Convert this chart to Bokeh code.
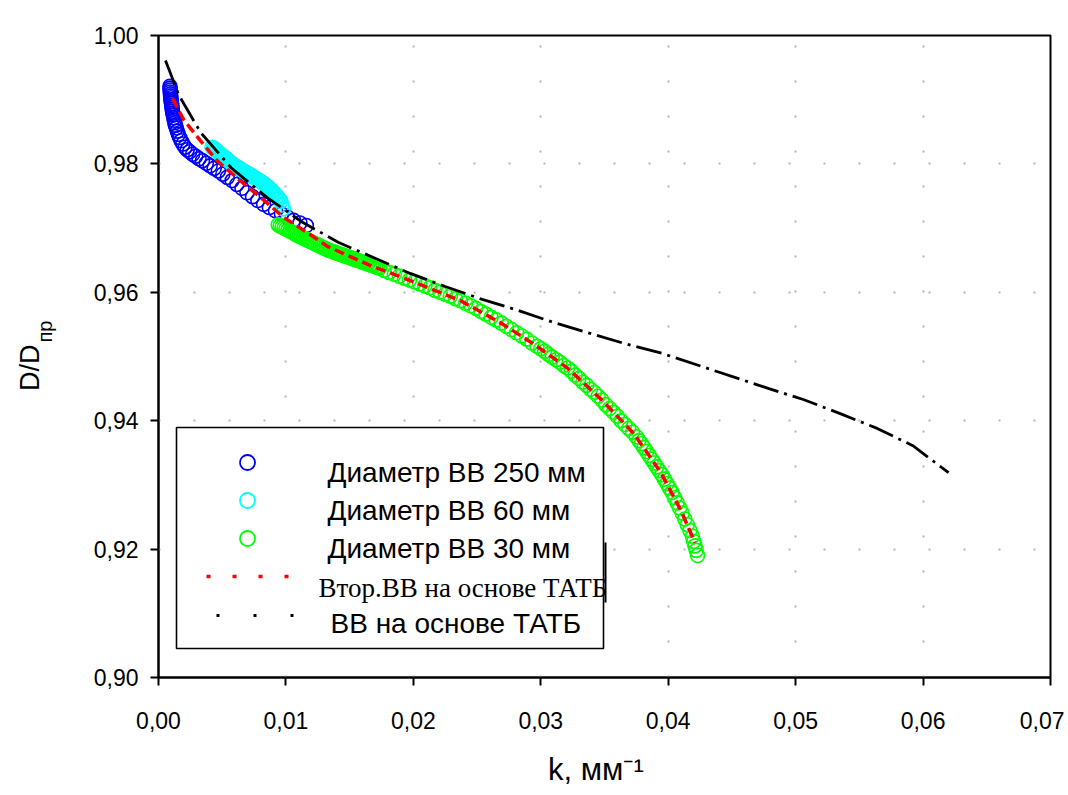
import math
from bokeh.plotting import figure
from bokeh.models import Range1d, FixedTicker, Label, LinearAxis
from bokeh.embed import file_html
from bokeh.resources import INLINE

# ---------------- data ----------------
# Диаметр ВВ 250 мм
k_250 = [0.00090, 0.00090, 0.00092, 0.00092, 0.00094, 0.00095, 0.00097, 0.00098,
         0.00100, 0.00102, 0.00104, 0.00106, 0.00108, 0.00110, 0.00113, 0.00116,
         0.00120, 0.00124, 0.00128, 0.00133, 0.00140, 0.00148, 0.00156, 0.00166,
         0.00178, 0.00192, 0.00208, 0.00225, 0.00245, 0.00268, 0.00292, 0.00318,
         0.00345, 0.00375, 0.00405, 0.00437, 0.00470, 0.00505, 0.00540, 0.00578,
         0.00615, 0.00655, 0.00695, 0.00738, 0.00780, 0.00825, 0.00870, 0.00918,
         0.00965, 0.01012, 0.01060, 0.01110, 0.01160]
d_250 = [0.9921, 0.9918, 0.9915, 0.9912, 0.9909, 0.9906, 0.9903, 0.9900,
         0.9897, 0.9894, 0.9891, 0.9888, 0.9885, 0.9882, 0.9879, 0.9876,
         0.9872, 0.9868, 0.9864, 0.9860, 0.9856, 0.9851, 0.9846, 0.9841,
         0.9836, 0.9831, 0.9826, 0.9822, 0.9819, 0.9815, 0.9812, 0.9808,
         0.9805, 0.9801, 0.9797, 0.9793, 0.9789, 0.9784, 0.9779, 0.9774,
         0.9768, 0.9762, 0.9755, 0.9749, 0.9743, 0.9737, 0.9732, 0.9727,
         0.9722, 0.9717, 0.9712, 0.9708, 0.9704]

# Диаметр ВВ 60 мм
k_60 = [0.0042, 0.0043, 0.0044, 0.0045, 0.0046, 0.0047, 0.0048, 0.0049,
        0.0050, 0.0051, 0.0052, 0.0053, 0.0054, 0.0055, 0.0056, 0.0057,
        0.0058, 0.0059, 0.0060, 0.0061, 0.0062, 0.0063, 0.0064, 0.0065,
        0.0066, 0.0067, 0.0068, 0.0069, 0.0070, 0.0071, 0.0072, 0.0073,
        0.0074, 0.0075, 0.0076, 0.0077, 0.0078, 0.0079, 0.0080, 0.0081,
        0.0082, 0.0083, 0.0084, 0.0085, 0.0086, 0.0087, 0.0088, 0.0089,
        0.0090, 0.0091, 0.0092, 0.0093, 0.0094, 0.0095, 0.0096, 0.0097,
        0.0098]
d_60 = [0.98260, 0.98245, 0.98230, 0.98215, 0.98200, 0.98180, 0.98160, 0.98145,
        0.98130, 0.98115, 0.98100, 0.98085, 0.98070, 0.98050, 0.98030, 0.98015,
        0.98000, 0.97985, 0.97970, 0.97960, 0.97950, 0.97935, 0.97920, 0.97910,
        0.97900, 0.97885, 0.97870, 0.97860, 0.97850, 0.97840, 0.97830, 0.97815,
        0.97800, 0.97790, 0.97780, 0.97765, 0.97750, 0.97740, 0.97730, 0.97715,
        0.97700, 0.97685, 0.97670, 0.97655, 0.97640, 0.97620, 0.97600, 0.97580,
        0.97560, 0.97540, 0.97520, 0.97495, 0.97470, 0.97450, 0.97420, 0.97360,
        0.97300]

# Диаметр ВВ 30 мм
k_30 = [0.00940, 0.00955, 0.00970, 0.00985, 0.01000, 0.01015, 0.01030, 0.01045,
        0.01060, 0.01075, 0.01090, 0.01105, 0.01120, 0.01135, 0.01150, 0.01165,
        0.01180, 0.01195, 0.01210, 0.01225, 0.01240, 0.01255, 0.01270, 0.01285,
        0.01300, 0.01315, 0.01330, 0.01345, 0.01360, 0.01375, 0.01390, 0.01405,
        0.01420, 0.01435, 0.01450, 0.01465, 0.01480, 0.01495, 0.01510, 0.01525,
        0.01540, 0.01555, 0.01570, 0.01585, 0.01600, 0.01615, 0.01630, 0.01645,
        0.01660, 0.01675, 0.01690, 0.01705, 0.01720, 0.01735,
        0.0177, 0.0181, 0.0185, 0.0189, 0.0193, 0.0197, 0.0201, 0.0205,
        0.0209, 0.0213, 0.0217, 0.0221, 0.0225, 0.0229, 0.0233, 0.0237,
        0.0241, 0.0245, 0.0249, 0.0253, 0.0257, 0.0261, 0.0265, 0.0269,
        0.0273, 0.0277, 0.0281, 0.0285, 0.0289, 0.0293, 0.0297,
        0.0300, 0.0303, 0.0306, 0.0309, 0.0312, 0.0315, 0.0318, 0.0321,
        0.0324, 0.0327, 0.0330, 0.0333, 0.0336, 0.0339, 0.0342, 0.0345,
        0.0348, 0.0351, 0.0354, 0.0357, 0.0360, 0.0363, 0.0366, 0.0369,
        0.0372, 0.0375, 0.0377, 0.0379, 0.0381, 0.0383, 0.0385, 0.0387,
        0.0389, 0.0391, 0.0393, 0.0395, 0.0397, 0.0399, 0.0401, 0.0403,
        0.0405, 0.0407, 0.0409, 0.0411, 0.0413, 0.0415, 0.0417, 0.0419,
        0.0420, 0.0421, 0.0422, 0.0423]
d_30 = [0.97050, 0.97034, 0.97018, 0.97002, 0.96986, 0.96970, 0.96954, 0.96938,
        0.96922, 0.96906, 0.96890, 0.96875, 0.96861, 0.96846, 0.96832, 0.96817,
        0.96803, 0.96789, 0.96774, 0.96760, 0.96745, 0.96731, 0.96717, 0.96702,
        0.96688, 0.96674, 0.96660, 0.96650, 0.96639, 0.96629, 0.96618, 0.96608,
        0.96597, 0.96587, 0.96576, 0.96566, 0.96555, 0.96545, 0.96534, 0.96524,
        0.96513, 0.96503, 0.96492, 0.96482, 0.96471, 0.96461, 0.96450, 0.96440,
        0.96429, 0.96419, 0.96408, 0.96398, 0.96387, 0.96377,
        0.9634, 0.9631, 0.9628, 0.9625, 0.9622, 0.9619, 0.9616, 0.9613,
        0.9610, 0.9607, 0.9603, 0.9600, 0.9597, 0.9594, 0.9590, 0.9587,
        0.9583, 0.9579, 0.9575, 0.9570, 0.9566, 0.9561, 0.9557, 0.9552,
        0.9547, 0.9542, 0.9537, 0.9532, 0.9527, 0.9521, 0.9516,
        0.9512, 0.9508, 0.9503, 0.9499, 0.9495, 0.9491, 0.9486, 0.9482,
        0.9477, 0.9471, 0.9466, 0.9460, 0.9455, 0.9449, 0.9444, 0.9438,
        0.9432, 0.9425, 0.9419, 0.9413, 0.9407, 0.9400, 0.9394, 0.9388,
        0.9382, 0.9375, 0.9369, 0.9364, 0.9358, 0.9352, 0.9346, 0.9340,
        0.9334, 0.9328, 0.9322, 0.9316, 0.9309, 0.9302, 0.9295, 0.9288,
        0.9280, 0.9272, 0.9264, 0.9256, 0.9247, 0.9238, 0.9229, 0.9220,
        0.9212, 0.9205, 0.9198, 0.9190]

# Втор.ВВ на основе ТАТБ (red dashed)
k_vtor = [0.0011, 0.0020, 0.0033, 0.0046, 0.0064, 0.0080, 0.0098, 0.0119,
          0.0133, 0.0166, 0.0198, 0.0237, 0.0268, 0.0294, 0.0321, 0.0347,
          0.0373, 0.0394, 0.0410, 0.0421]
d_vtor = [0.9902, 0.9868, 0.9836, 0.9805, 0.9774, 0.9748, 0.9717, 0.9690,
          0.9671, 0.9642, 0.9618, 0.9587, 0.9553, 0.9520, 0.9482, 0.9434,
          0.9380, 0.9320, 0.9260, 0.9210]

# ВВ на основе ТАТБ (black dash-dot)
k_tatb = [0.00055, 0.0016, 0.0033, 0.0057, 0.0085, 0.0113, 0.0141, 0.0170,
          0.0198, 0.0225, 0.0254, 0.0282, 0.0310, 0.0366, 0.0395, 0.0479,
          0.0506, 0.0535, 0.0564, 0.0592, 0.0620]
d_tatb = [0.9961, 0.9907, 0.9849, 0.9794, 0.9748, 0.9709, 0.9678, 0.9653,
          0.9629, 0.9609, 0.9589, 0.9572, 0.9553, 0.9520, 0.9505, 0.9450,
          0.9433, 0.9411, 0.9388, 0.9361, 0.9319]

x_ticks = [0.00, 0.01, 0.02, 0.03, 0.04, 0.05, 0.06, 0.07]
x_tick_labels = ["0,00", "0,01", "0,02", "0,03", "0,04", "0,05", "0,06", "0,07"]
y_ticks = [0.90, 0.92, 0.94, 0.96, 0.98, 1.00]
y_tick_labels = ["0,90", "0,92", "0,94", "0,96", "0,98", "1,00"]

series_labels = ["Диаметр ВВ 250 мм", "Диаметр ВВ 60 мм", "Диаметр ВВ 30 мм",
                 "Втор.ВВ на основе ТАТБ", "ВВ на основе ТАТБ"]
x_title = "k, мм⁻¹"
y_title = "D/D"
y_title_sub = "пр"

# ---------------- layout ----------------
X0, X1 = 0.0, 0.07
Y0, Y1 = 0.90, 1.00
BL, BR, BT, BB = 158, 14, 35, 113
W, H = 1064, 790
FW = W - BL - BR
FH = H - BT - BB
NB = "\u00a0"


def dx(px):
    """canvas pixel x -> data x"""
    return X0 + (px - BL) / FW * (X1 - X0)


def dy(py):
    """canvas pixel y -> data y"""
    return Y1 - (py - BT) / FH * (Y1 - Y0)


p = figure(width=W, height=H, x_range=Range1d(X0, X1), y_range=Range1d(Y0, Y1),
           output_backend="svg", toolbar_location=None,
           min_border_left=BL, min_border_right=BR, min_border_top=BT,
           min_border_bottom=BB)
p.background_fill_color = "white"
p.border_fill_color = "white"
p.outline_line_color = "black"
p.outline_line_width = 2
p.outline_line_alpha = 1.0

p.xaxis.ticker = FixedTicker(ticks=x_ticks)
p.yaxis.ticker = FixedTicker(ticks=y_ticks)
p.xaxis.major_label_overrides = dict(zip(x_ticks, x_tick_labels))
p.yaxis.major_label_overrides = dict(zip(y_ticks, y_tick_labels))

for ax in p.axis:
    ax.axis_line_width = 2
    ax.axis_line_color = "black"
    ax.major_tick_line_width = 2
    ax.major_tick_line_color = "black"
    ax.major_tick_out = 8
    ax.major_tick_in = 0
    ax.minor_tick_out = 0
    ax.minor_tick_in = 0
    ax.major_label_text_font = "Liberation Sans"
    ax.major_label_text_font_size = "23px"
    ax.major_label_text_color = "black"
    ax.axis_label_text_font = "Liberation Sans"
    ax.axis_label_text_font_style = "normal"
    ax.axis_label_text_color = "black"
p.yaxis.major_label_standoff = 12
p.xaxis.major_label_standoff = 26

# x title (centre shifted a little to the left with trailing no-break spaces)
p.xaxis.axis_label = x_title + NB * 2
p.xaxis.axis_label_text_font_size = "31px"
p.xaxis.axis_label_standoff = 20

# y title: subscript on the real axis, main part on an empty outer axis
p.yaxis.axis_label = NB * 9 + y_title_sub
p.yaxis.axis_label_text_font_size = "20px"
p.yaxis.axis_label_standoff = 35

ax2 = LinearAxis(ticker=FixedTicker(ticks=[]), axis_label=y_title + NB * 3,
                 axis_line_color=None, major_tick_out=0, major_tick_in=0,
                 minor_tick_out=0, minor_tick_in=0, major_label_standoff=0,
                 axis_label_standoff=-14, axis_label_text_font="Liberation Sans",
                 axis_label_text_font_size="27px", axis_label_text_font_style="normal",
                 axis_label_text_color="black")
p.add_layout(ax2, "left")

for g in (p.xgrid, p.ygrid):
    g.grid_line_color = "#b5b5b5"
    g.grid_line_dash = "2 33"
    g.grid_line_width = 2

# ---------------- data glyphs ----------------
p.scatter(k_250, d_250, marker="circle", size=14, fill_color=None,
          line_color="#0000ff", line_width=1.6)
p.scatter(k_60, d_60, marker="circle", size=14, fill_color=None,
          line_color="#00ffff", line_width=1.6)
p.scatter(k_30, d_30, marker="circle", size=14, fill_color=None,
          line_color="#00ff00", line_width=1.6)
p.line(k_vtor, d_vtor, line_color="#ff0000", line_width=3.5, line_dash="10 5")
p.line(k_tatb, d_tatb, line_color="black", line_width=2.8, line_dash="26 6 3 6")

# ---------------- legend (hand built) ----------------
p.quad(left=dx(176), right=dx(603), top=dy(427), bottom=dy(648),
       fill_color="white", line_color="black", line_width=1.6)
p.line([dx(605), dx(605)], [dy(542), dy(602)], line_color="black", line_width=2)

marker_colors = ["#0000ff", "#00ffff", "#00ff00"]
row_marker_y = [462, 500, 538]
p.scatter([dx(247)] * 3, [dy(v) for v in row_marker_y], marker="circle", size=15,
          fill_color=None, line_color=marker_colors, line_width=1.8)
p.line([dx(206), dx(298)], [dy(576), dy(576)], line_color="#ff0000",
       line_width=3.5, line_dash="4 22")
p.line([dx(216), dx(296)], [dy(615), dy(615)], line_color="black",
       line_width=3, line_dash="3 34")

row_text_x = [327, 327, 327, 318, 330]
row_text_base = [472, 510, 548, 587, 623]
row_fonts = ["Liberation Sans", "Liberation Sans", "Liberation Sans",
             "Liberation Serif", "Liberation Sans"]
row_sizes = ["28px", "28px", "28px", "27px", "28px"]
for t, xx, yy, f, s in zip(series_labels, row_text_x, row_text_base, row_fonts, row_sizes):
    p.add_layout(Label(x=dx(xx), y=dy(yy), text=t, text_font=f, text_font_size=s,
                       text_color="black", text_baseline="alphabetic",
                       text_align="left"))

open("out.html", "w").write(file_html(p, INLINE))
